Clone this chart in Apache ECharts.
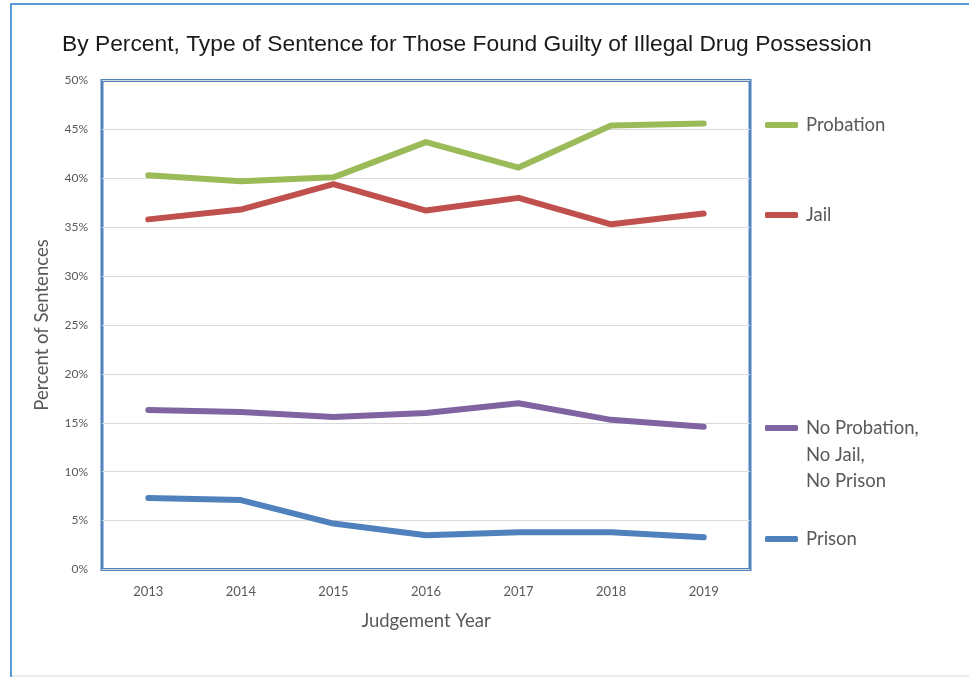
<!DOCTYPE html>
<html>
<head>
<meta charset="utf-8">
<script src="https://cdn.jsdelivr.net/npm/echarts@6/dist/echarts.min.js"></script>
<style>
  html, body { margin: 0; padding: 0; background: #ffffff; }
  #chart { width: 969px; height: 677px; }
</style>
</head>
<body>
<div id="chart"></div>
<script>
// Judgement years on the x axis
const years = ['2013', '2014', '2015', '2016', '2017', '2018', '2019'];

// Share of sentences (percent) by sentence type
const probation = [40.3, 39.7, 40.1, 43.7, 41.1, 45.4, 45.6];
const jail = [35.8, 36.8, 39.4, 36.7, 38.0, 35.3, 36.4];
const noSentence = [16.3, 16.1, 15.6, 16.0, 17.0, 15.3, 14.6];
const prison = [7.3, 7.1, 4.7, 3.5, 3.8, 3.8, 3.3];

// Y axis ticks
const yMin = 0, yMax = 50, yStep = 5;

const colors = {
  'Probation': '#9BBB59',
  'Jail': '#C0504D',
  'No Probation,': '#8064A2',
  'Prison': '#4F81BD'
};

const chart = echarts.init(document.getElementById('chart'), null, { renderer: 'canvas' });

const labelFont = 'Lato, "Open Sans", sans-serif';
const keyFontSize = 18.5;
const keyLineHeight = 20;

function lineSeries(name, data) {
  return {
    name: name,
    type: 'line',
    data: data,
    symbol: 'none',
    smooth: false,
    lineStyle: { width: 6, color: colors[name], cap: 'round', join: 'round' },
    itemStyle: { color: colors[name] },
    emphasis: { disabled: true },
    z: 3
  };
}

// One legend block per series, each placed beside the right edge of the plot
function legendAt(name, top) {
  return {
    data: [{ name: name, icon: 'roundRect' }],
    left: 760,
    top: top,
    itemWidth: 33,
    itemHeight: 6,
    itemGap: 0,
    selectedMode: false,
    textStyle: {
      fontFamily: labelFont,
      fontSize: keyFontSize,
      lineHeight: keyLineHeight,
      color: '#595959',
      padding: [0, 0, 0, 3]
    }
  };
}

const option = {
  animation: false,
  backgroundColor: '#ffffff',
  title: {
    text: 'By Percent, Type of Sentence for Those Found Guilty of Illegal Drug Possession',
    left: 57,
    top: 28,
    textStyle: {
      fontFamily: '"Liberation Sans", Arial, sans-serif',
      fontSize: 22.8,
      fontWeight: 'normal',
      color: '#1a1a1a'
    }
  },
  legend: [
    legendAt('Probation', 110),
    legendAt('Jail', 200),
    legendAt('No Probation,', 413),
    legendAt('Prison', 524)
  ],
  grid: {
    left: 102,
    top: 80.5,
    width: 648,
    height: 489,
    show: true,
    borderColor: '#4F81BD',
    borderWidth: 3,
    backgroundColor: 'transparent',
    containLabel: false
  },
  xAxis: {
    type: 'category',
    data: years,
    boundaryGap: true,
    name: 'Judgement Year',
    nameLocation: 'middle',
    nameGap: 42,
    nameTextStyle: { fontFamily: labelFont, fontSize: 18.5, color: '#595959' },
    axisLine: { show: false },
    axisTick: { show: false },
    axisLabel: { fontFamily: labelFont, fontSize: 13, color: '#595959', margin: 16 },
    splitLine: { show: false }
  },
  yAxis: {
    type: 'value',
    min: yMin,
    max: yMax,
    interval: yStep,
    name: 'Percent of Sentences',
    nameLocation: 'middle',
    nameGap: 50,
    nameTextStyle: { fontFamily: labelFont, fontSize: 18.5, color: '#595959' },
    axisLine: { show: false },
    axisTick: { show: false },
    axisLabel: {
      fontFamily: labelFont,
      fontSize: 12,
      color: '#595959',
      margin: 14,
      formatter: function (v) { return v + '%'; }
    },
    splitLine: { lineStyle: { color: '#d9d9d9', width: 1 } }
  },
  graphic: [
    // Frame around the figure
    { type: 'rect', shape: { x: 10, y: 3, width: 2, height: 674 }, style: { fill: '#5B9BD5' }, silent: true },
    { type: 'rect', shape: { x: 10, y: 3, width: 959, height: 2 }, style: { fill: '#5B9BD5' }, silent: true },
    { type: 'rect', shape: { x: 12, y: 675, width: 957, height: 2 }, style: { fill: '#ececec' }, silent: true },
    // Continuation lines of the third legend entry
    {
      type: 'text', left: 806, top: 445,
      style: { text: 'No Jail,', font: keyFontSize + 'px ' + labelFont, lineHeight: keyLineHeight, fill: '#595959' },
      silent: true
    },
    {
      type: 'text', left: 806, top: 471,
      style: { text: 'No Prison', font: keyFontSize + 'px ' + labelFont, lineHeight: keyLineHeight, fill: '#595959' },
      silent: true
    }
  ],
  series: [
    lineSeries('Probation', probation),
    lineSeries('Jail', jail),
    lineSeries('No Probation,', noSentence),
    lineSeries('Prison', prison)
  ]
};

chart.setOption(option);
</script>
</body>
</html>
